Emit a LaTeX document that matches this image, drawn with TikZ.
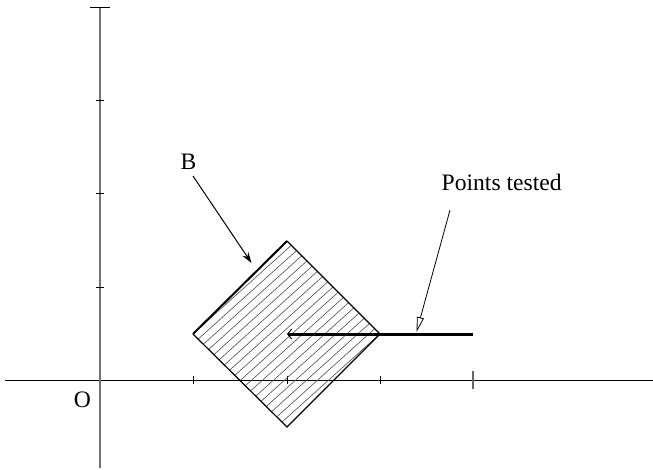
\documentclass[tikz,border=0pt]{standalone}
\usepackage{fontspec}
\setmainfont{Liberation Serif}
\usetikzlibrary{arrows.meta}
\begin{document}
\begin{tikzpicture}[x=1pt,y=-1pt,
  axis/.style={line width=1pt,black},
  yaxis/.style={line width=1.2pt,black!55},
  tick/.style={line width=1pt,black},
  lbl/.style={font=\fontsize{23.6}{26}\selectfont,inner sep=0pt,anchor=base},
  hatch/.style={line width=0.6pt,black!70},
  edge/.style={line width=1.2pt,black},
  bedge/.style={line width=2pt,black},
  ptr/.style={line width=1pt,-{Stealth[length=11pt,width=7pt]}},
  optr/.style={line width=0.8pt,-{Triangle[open,length=15pt,width=7pt]}},
  tested/.style={line width=3pt,-{Straight Barb[length=4pt,width=10pt,line width=1pt]}}]
\useasboundingbox (0,0) rectangle (653,469);
% axes
\coordinate (xa) at (5,380); \coordinate (xb) at (653,380);
\coordinate (ya) at (100,468); \coordinate (yb) at (100,7);
\draw[axis] (xa) -- (xb);
\draw[yaxis] (ya) -- (yb);
% ticks on x axis
\foreach \x in {193,287,380}{\draw[tick] (\x,376) -- (\x,384);}
\draw[line width=1.5pt,black!60] (473,371) -- (473,389);
% ticks on y axis
\foreach \y in {100,193,287}{\draw[tick] (96,\y) -- (104,\y);}
\draw[tick] (90,7) -- (110,7);
% diamond
\coordinate (L) at (193,334); \coordinate (T) at (287,241);
\coordinate (R) at (380,334); \coordinate (Bt) at (287,427);
\coordinate (C) at (287,334);
\begin{scope}
\clip (L) -- (T) -- (R) -- (Bt) -- cycle;
\foreach \a in {130.7,141.7,...,350}{
  \pgfmathsetmacro{\xp}{\a+300*cos(42)}\pgfmathsetmacro{\yp}{380-300*sin(42)}
  \pgfmathsetmacro{\xm}{\a-300*cos(42)}\pgfmathsetmacro{\ym}{380+300*sin(42)}
  \draw[hatch] (\xm,\ym) -- (\xp,\yp);}
\end{scope}
\draw[edge] (T) -- (R) -- (Bt) -- (L);
\draw[bedge] (L) -- (T);
% tested points line
\coordinate (E) at (473,334);
\draw[tested] (E) -- (C);
% labels
\node[lbl] (blab) at (188.5,169) {B};
\node[lbl] (olab) at (82.5,407) {O};
\node[lbl,anchor=base west] (plab) at (441.5,190) {Points tested};
\coordinate (bs) at (193,176); \coordinate (be) at (251.5,263);
\draw[ptr] (bs) -- (be);
\coordinate (ps) at (450,210); \coordinate (pe) at (416.5,332);
\draw[optr] (ps) -- (pe);
\end{tikzpicture}
\end{document}
